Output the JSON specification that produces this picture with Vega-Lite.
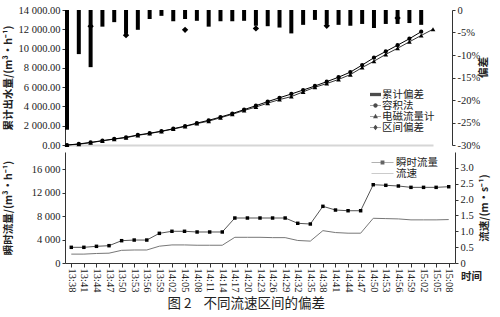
{
  "$schema": "https://vega.github.io/schema/vega-lite/v6.json",
  "padding": {"left": 3, "top": 5, "right": 4, "bottom": 3},
  "background": "white",
  "config": {
    "view": {"stroke": null},
    "axis": {
      "labelFont": "Liberation Serif",
      "labelFontSize": 10.5,
      "labelColor": "#222",
      "labelOverlap": false,
      "titleFont": "Noto Sans CJK SC",
      "titleFontSize": 10.5,
      "titleFontWeight": "bold",
      "titleColor": "#222",
      "domainColor": "#333",
      "tickColor": "#333",
      "grid": false,
      "tickSize": 3,
      "labelPadding": 2
    },
    "legend": {
      "labelFont": "Noto Sans CJK SC",
      "labelFontSize": 10.5,
      "labelColor": "#222",
      "padding": 0,
      "rowPadding": 0,
      "symbolStrokeWidth": 0
    }
  },
  "title": {
    "text": "图 2\u00a0\u00a0\u00a0\u00a0不同流速区间的偏差",
    "orient": "bottom",
    "anchor": "middle",
    "font": "Noto Sans CJK SC",
    "fontSize": 13.5,
    "fontWeight": "normal",
    "color": "#222",
    "offset": 5
  },
  "datasets": {
    "top": [
      {"时间": "13:38", "累计偏差": -26.6, "容积法": 0, "电磁流量计": 0},
      {"时间": "13:41", "累计偏差": -9.8, "容积法": 110, "电磁流量计": 80},
      {"时间": "13:44", "累计偏差": -12.7, "容积法": 270, "电磁流量计": 240, "区间偏差": -3.6},
      {"时间": "13:47", "累计偏差": -3.7, "容积法": 450, "电磁流量计": 430},
      {"时间": "13:50", "累计偏差": -2.7, "容积法": 630, "电磁流量计": 610},
      {"时间": "13:53", "累计偏差": -5.3, "容积法": 800, "电磁流量计": 760, "区间偏差": -5.6},
      {"时间": "13:56", "累计偏差": -4.4, "容积法": 1040, "电磁流量计": 1000},
      {"时间": "13:59", "累计偏差": -2.0, "容积法": 1220, "电磁流量计": 1190},
      {"时间": "14:02", "累计偏差": -1.3, "容积法": 1430, "电磁流量计": 1410},
      {"时间": "14:05", "累计偏差": -2.5, "容积法": 1690, "电磁流量计": 1650},
      {"时间": "14:08", "累计偏差": -2.0, "容积法": 1960, "电磁流量计": 1920, "区间偏差": -4.4},
      {"时间": "14:11", "累计偏差": -2.4, "容积法": 2270, "电磁流量计": 2220},
      {"时间": "14:14", "累计偏差": -3.7, "容积法": 2560, "电磁流量计": 2470},
      {"时间": "14:17", "累计偏差": -2.5, "容积法": 2900, "电磁流量计": 2830},
      {"时间": "14:20", "累计偏差": -2.5, "容积法": 3260, "电磁流量计": 3180},
      {"时间": "14:23", "累计偏差": -2.4, "容积法": 3670, "电磁流量计": 3580},
      {"时间": "14:26", "累计偏差": -3.5, "容积法": 4080, "电磁流量计": 3940, "区间偏差": -4.1},
      {"时间": "14:29", "累计偏差": -3.6, "容积法": 4500, "电磁流量计": 4340},
      {"时间": "14:32", "累计偏差": -3.9, "容积法": 4900, "电磁流量计": 4710},
      {"时间": "14:35", "累计偏差": -5.2, "容积法": 5290, "电磁流量计": 5020},
      {"时间": "14:38", "累计偏差": -3.3, "容积法": 5700, "电磁流量计": 5510},
      {"时间": "14:41", "累计偏差": -2.2, "容积法": 6120, "电磁流量计": 5990},
      {"时间": "14:44", "累计偏差": -3.1, "容积法": 6570, "电磁流量计": 6370, "区间偏差": -3.5},
      {"时间": "14:47", "累计偏差": -3.3, "容积法": 7030, "电磁流量计": 6800},
      {"时间": "14:50", "累计偏差": -3.5, "容积法": 7560, "电磁流量计": 7300},
      {"时间": "14:53", "累计偏差": -3.1, "容积法": 8290, "电磁流量计": 8030},
      {"时间": "14:56", "累计偏差": -4.0, "容积法": 9050, "电磁流量计": 8690},
      {"时间": "14:59", "累计偏差": -3.1, "容积法": 9700, "电磁流量计": 9400},
      {"时间": "15:02", "累计偏差": -3.1, "容积法": 10350, "电磁流量计": 10030, "区间偏差": -1.8},
      {"时间": "15:05", "累计偏差": -2.9, "容积法": 11020, "电磁流量计": 10700},
      {"时间": "15:08", "累计偏差": -3.3, "容积法": 11750, "电磁流量计": 11360},
      {"时间": "15:11", "电磁流量计": 12000}
    ],
    "bottom": [
      {"时间": "13:38", "瞬时流量": 2670, "流速": 0.28},
      {"时间": "13:41", "瞬时流量": 2670, "流速": 0.28},
      {"时间": "13:44", "瞬时流量": 2840, "流速": 0.30},
      {"时间": "13:47", "瞬时流量": 2950, "流速": 0.31},
      {"时间": "13:50", "瞬时流量": 3800, "流速": 0.40},
      {"时间": "13:53", "瞬时流量": 3910, "流速": 0.41},
      {"时间": "13:56", "瞬时流量": 3910, "流速": 0.41},
      {"时间": "13:59", "瞬时流量": 5050, "流速": 0.53},
      {"时间": "14:02", "瞬时流量": 5400, "流速": 0.57},
      {"时间": "14:05", "瞬时流量": 5400, "流速": 0.57},
      {"时间": "14:08", "瞬时流量": 5280, "流速": 0.56},
      {"时间": "14:11", "瞬时流量": 5280, "流速": 0.56},
      {"时间": "14:14", "瞬时流量": 5280, "流速": 0.56},
      {"时间": "14:17", "瞬时流量": 7660, "流速": 0.81},
      {"时间": "14:20", "瞬时流量": 7660, "流速": 0.81},
      {"时间": "14:23", "瞬时流量": 7660, "流速": 0.81},
      {"时间": "14:26", "瞬时流量": 7660, "流速": 0.80},
      {"时间": "14:29", "瞬时流量": 7660, "流速": 0.80},
      {"时间": "14:32", "瞬时流量": 6760, "流速": 0.71},
      {"时间": "14:35", "瞬时流量": 6640, "流速": 0.69},
      {"时间": "14:38", "瞬时流量": 9650, "流速": 1.02},
      {"时间": "14:41", "瞬时流量": 9020, "流速": 0.96},
      {"时间": "14:44", "瞬时流量": 8900, "流速": 0.94},
      {"时间": "14:47", "瞬时流量": 8900, "流速": 0.94},
      {"时间": "14:50", "瞬时流量": 13330, "流速": 1.41},
      {"时间": "14:53", "瞬时流量": 13230, "流速": 1.40},
      {"时间": "14:56", "瞬时流量": 13110, "流速": 1.39},
      {"时间": "14:59", "瞬时流量": 12880, "流速": 1.36},
      {"时间": "15:02", "瞬时流量": 12880, "流速": 1.36},
      {"时间": "15:05", "瞬时流量": 12880, "流速": 1.36},
      {"时间": "15:08", "瞬时流量": 12990, "流速": 1.37}
    ]
  },
  "spacing": 1,
  "resolve": {
    "scale": {"shape": "independent", "color": "independent"},
    "legend": {"shape": "independent", "color": "independent"}
  },
  "vconcat": [
    {
      "width": 387,
      "height": 135,
      "data": {"name": "top"},
      "encoding": {
        "x": {
          "field": "时间",
          "type": "ordinal",
          "scale": {
            "type": "point",
            "domain": ["13:38","13:41","13:44","13:47","13:50","13:53","13:56","13:59","14:02","14:05","14:08","14:11","14:14","14:17","14:20","14:23","14:26","14:29","14:32","14:35","14:38","14:41","14:44","14:47","14:50","14:53","14:56","14:59","15:02","15:05","15:08","15:11"],
            "range": [2, 368],
            "padding": 0
          },
          "axis": {"title": null, "labels": false, "ticks": false, "domainColor": "#d6d6d6", "domainWidth": 2}
        }
      },
      "layer": [
        {
          "layer": [
            {
              "mark": {"type": "bar", "color": "black", "size": 4},
              "encoding": {
                "y": {
                  "field": "累计偏差",
                  "type": "quantitative",
                  "scale": {"domain": [-30, 0], "nice": false},
                  "axis": {
                    "orient": "right",
                    "title": "偏差",
                    "titleAngle": 270,
                    "titleAlign": "center",
                    "titleBaseline": "bottom",
                    "titleY": 57,
                    "titlePadding": 9,
                    "labelOverlap": false,
                    "values": [0, -5, -10, -15, -20, -25, -30],
                    "labelExpr": "datum.value == 0 ? '0' : datum.value + '%'"
                  }
                }
              }
            },
            {
              "mark": {"type": "point", "shape": "diamond", "filled": true, "color": "black", "size": 40, "opacity": 1},
              "encoding": {
                "y": {
                  "field": "区间偏差",
                  "type": "quantitative",
                  "axis": {
                    "orient": "right",
                    "title": "偏差",
                    "titleAngle": 270,
                    "titleAlign": "center",
                    "titleBaseline": "bottom",
                    "titleY": 57,
                    "titlePadding": 9,
                    "labelOverlap": false,
                    "values": [0, -5, -10, -15, -20, -25, -30],
                    "labelExpr": "datum.value == 0 ? '0' : datum.value + '%'"
                  }
                }
              }
            }
          ]
        },
        {
          "layer": [
            {
              "mark": {"type": "line", "color": "black", "strokeWidth": 0.8,
                       "point": {"shape": "triangle-up", "size": 22, "filled": true, "color": "black"}},
              "encoding": {
                "y": {
                  "field": "电磁流量计",
                  "type": "quantitative",
                  "scale": {"domain": [0, 14000], "nice": false},
                  "axis": {
                    "orient": "left",
                    "title": "累计出水量/(m³·h⁻¹)",
                    "titlePadding": 5,
                    "labelOverlap": false,
                    "values": [0, 2000, 4000, 6000, 8000, 10000, 12000, 14000],
                    "labelExpr": "replace(format(datum.value, ',.2f'), ',', ' ')"
                  }
                }
              }
            },
            {
              "mark": {"type": "line", "color": "black", "strokeWidth": 1,
                       "point": {"shape": "circle", "size": 18, "filled": true, "color": "black"}},
              "encoding": {
                "y": {
                  "field": "容积法",
                  "type": "quantitative",
                  "axis": {
                    "orient": "left",
                    "title": "累计出水量/(m³·h⁻¹)",
                    "titlePadding": 5,
                    "labelOverlap": false,
                    "values": [0, 2000, 4000, 6000, 8000, 10000, 12000, 14000],
                    "labelExpr": "replace(format(datum.value, ',.2f'), ',', ' ')"
                  }
                }
              }
            }
          ]
        },
        {
          "mark": {"type": "point", "filled": true, "color": "black"},
          "transform": [{"filter": "false"}],
          "encoding": {
            "shape": {
              "field": "系列",
              "type": "nominal",
              "scale": {
                "domain": ["累计偏差", "容积法", "电磁流量计", "区间偏差"],
                "range": [
                  "M-1,-0.3H1V0.3H-1Z",
                  "M-1,-0.06H1V0.06H-1Z M0.4,0A0.4,0.4 0 1,1 -0.4,0A0.4,0.4 0 1,1 0.4,0Z",
                  "M-1,-0.06H1V0.06H-1Z M0,-0.5L0.45,0.3H-0.45Z",
                  "M-1,-0.06H1V0.06H-1Z M0,-0.5L0.4,0L0,0.5L-0.4,0Z"
                ]
              },
              "legend": {
                "title": null,
                "orient": "none",
                "legendX": 305,
                "legendY": 79,
                "symbolSize": 121,
                "symbolFillColor": "black",
                "labelOffset": 1
              }
            }
          }
        }
      ],
      "resolve": {"scale": {"y": "independent"}}
    },
    {
      "width": 390,
      "height": 111,
      "data": {"name": "bottom"},
      "encoding": {
        "x": {
          "field": "时间",
          "type": "ordinal",
          "scale": {"type": "point", "padding": 0.5},
          "axis": {
            "title": "时间",
            "labelAngle": 90,
            "tickSize": 4,
            "labelPadding": 1,
            "titleAngle": 0,
            "titleX": 406,
            "titleY": 13,
            "titleAlign": "center",
            "titleBaseline": "middle"
          }
        }
      },
      "layer": [
        {
          "mark": {"type": "line", "color": "#555", "strokeWidth": 1,
                   "point": {"shape": "square", "size": 12, "filled": true, "color": "black"}},
          "encoding": {
            "y": {
              "field": "瞬时流量",
              "type": "quantitative",
              "scale": {"domain": [0, 18900], "nice": false},
              "axis": {
                "orient": "left",
                "title": "瞬时流量/(m³·h⁻¹)",
                "titlePadding": 18,
                "labelOverlap": false,
                "values": [0, 4000, 8000, 12000, 16000],
                "labelExpr": "replace(format(datum.value, ','), ',', ' ')"
              }
            }
          }
        },
        {
          "mark": {"type": "line", "color": "#777", "strokeWidth": 1},
          "encoding": {
            "y": {
              "field": "流速",
              "type": "quantitative",
              "scale": {"domain": [0, 3.5], "nice": false},
              "axis": {
                "orient": "right",
                "title": "流速/(m·s⁻¹)",
                "titleAngle": 270,
                "titlePadding": 16,
                "labelOverlap": false,
                "values": [0, 0.5, 1, 1.5, 2, 2.5, 3],
                "labelExpr": "datum.value == 0 ? '0' : format(datum.value, '.1f')"
              }
            }
          }
        },
        {
          "mark": {"type": "point", "filled": true},
          "transform": [{"filter": "false"}],
          "encoding": {
            "shape": {
              "field": "系列",
              "type": "nominal",
              "scale": {
                "domain": ["瞬时流量", "流速"],
                "range": [
                  "M-2,-0.06H2V0.06H-2Z M-0.35,-0.35H0.35V0.35H-0.35Z",
                  "M-2,-0.05H2V0.05H-2Z"
                ]
              },
              "legend": {
                "title": null,
                "orient": "none",
                "legendX": 312,
                "legendY": 5,
                "symbolSize": 121,
                "labelOffset": 8
              }
            },
            "color": {
              "field": "系列",
              "type": "nominal",
              "scale": {"domain": ["瞬时流量", "流速"], "range": ["#222", "#777"]},
              "legend": {
                "title": null,
                "orient": "none",
                "legendX": 312,
                "legendY": 5,
                "symbolSize": 121,
                "labelOffset": 8
              }
            }
          }
        }
      ],
      "resolve": {"scale": {"y": "independent"}}
    }
  ]
}
